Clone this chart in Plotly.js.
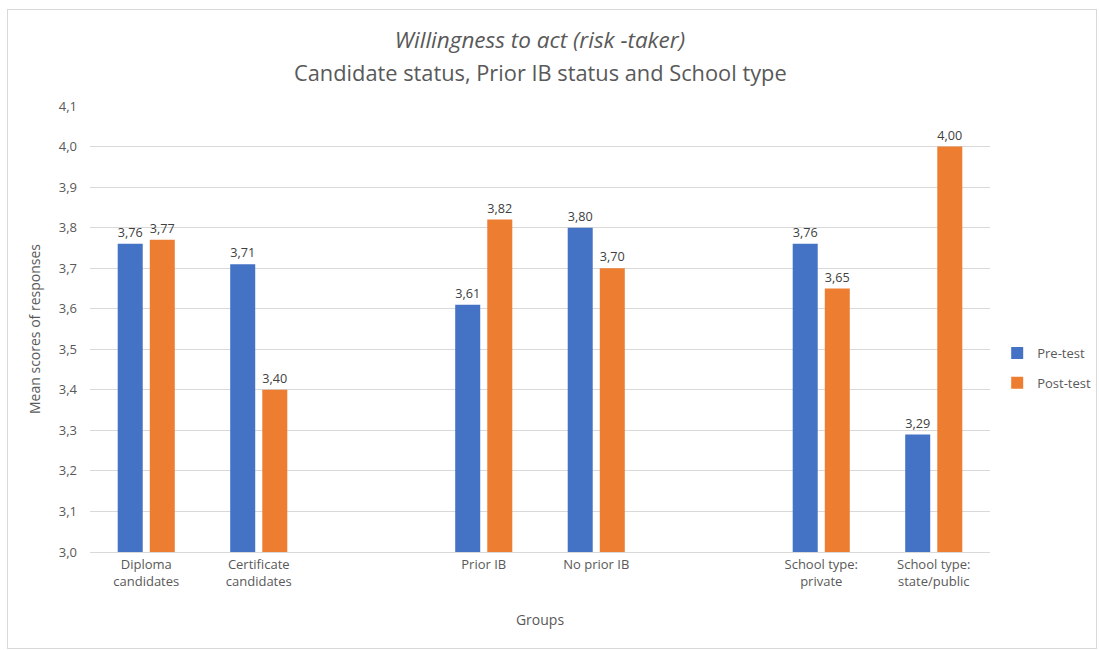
<!DOCTYPE html>
<html>
<head>
<meta charset="utf-8">
<script src="https://cdn.plot.ly/plotly-3.0.1.min.js"></script>
<style>
html,body{margin:0;padding:0;background:#fff;}
#frame{position:absolute;left:7px;top:9px;width:1090px;height:640px;border:1px solid #d9d9d9;box-sizing:border-box;}
#chart{position:absolute;left:0;top:0;width:1099px;height:650px;}
</style>
</head>
<body>
<div id="frame"></div>
<div id="chart"></div>
<script>
const categories = ["Diploma<br>candidates", "Certificate<br>candidates", "", "Prior IB", "No prior IB", "", "School type:<br>private", "School type:<br>state/public"];
const preTest  = [3.76, 3.71, null, 3.61, 3.80, null, 3.76, 3.29];
const postTest = [3.77, 3.40, null, 3.82, 3.70, null, 3.65, 4.00];
const seriesNames = ["Pre-test", "Post-test"];
const titleLines = ["<i>Willingness to act (risk -taker)</i>", "Candidate status, Prior IB status and School type"];
const yTicks = [3.0, 3.1, 3.2, 3.3, 3.4, 3.5, 3.6, 3.7, 3.8, 3.9, 4.0, 4.1];

const idx = categories.map((c, i) => i);
const fmt = v => v == null ? "" : v.toFixed(2).replace(".", ",");
const FONT = "'Open Sans', Lato, sans-serif";
const GREY = "#595959";

function trace(name, vals, color) {
  return {
    type: "bar", name: name, legendgroup: name, x: idx, y: vals,
    marker: {color: color},
    text: vals.map(fmt), textposition: "outside", cliponaxis: false,
    textfont: {family: FONT, size: 13, color: "#404040"},
    hoverinfo: "skip"
  };
}
const data = [
  trace(seriesNames[0], preTest, "#4472c4"),
  trace(seriesNames[1], postTest, "#ed7d31")
];

// plot area spans pixel rows 106 (top) to 552 (bottom)
const pyToPaper = py => (552 - py) / (552 - 106);

const layout = {
  width: 1099, height: 650,
  paper_bgcolor: "rgba(0,0,0,0)", plot_bgcolor: "rgba(0,0,0,0)",
  margin: {l: 90, r: 109, t: 106, b: 98, autoexpand: false},
  font: {family: FONT, color: GREY, size: 13},
  title: {
    text: titleLines[0],
    font: {family: FONT, size: 22.5, color: GREY},
    x: 0.5, xanchor: "center", xref: "paper", yref: "container", y: 1 - 40 / 650, yanchor: "middle"
  },
  annotations: [{
    text: titleLines[1], xref: "paper", yref: "paper", x: 0.5, y: pyToPaper(72),
    xanchor: "center", yanchor: "middle", showarrow: false,
    font: {family: FONT, size: 21.8, color: GREY}
  }],
  barmode: "group", bargap: 0.43, bargroupgap: 0.22,
  xaxis: {
    range: [-0.5, categories.length - 0.5],
    tickvals: idx, ticktext: categories,
    showgrid: false, zeroline: false,
    showline: true, linecolor: "#d9d9d9", ticks: "",
    tickfont: {family: FONT, size: 13, color: GREY},
    title: {text: "Groups", font: {family: FONT, size: 14, color: GREY}, standoff: 26}
  },
  yaxis: {
    range: [3.0, 4.1], tickvals: yTicks, ticktext: yTicks.map(v => v.toFixed(1).replace(".", ",")),
    showgrid: true, gridcolor: "#d9d9d9", gridwidth: 1, zeroline: false,
    showline: false, ticks: "", ticklabelstandoff: 12,
    tickfont: {family: FONT, size: 13, color: GREY},
    title: {text: "Mean scores of responses", font: {family: FONT, size: 14, color: GREY}, standoff: 14}
  },
  legend: {
    x: 1.008, xanchor: "left", y: pyToPaper(368), yanchor: "middle",
    font: {family: FONT, size: 13, color: GREY},
    traceorder: "grouped", tracegroupgap: 10, itemwidth: 30
  },
  showlegend: true
};
Plotly.newPlot("chart", data, layout, {displayModeBar: false, staticPlot: true});
</script>
</body>
</html>
